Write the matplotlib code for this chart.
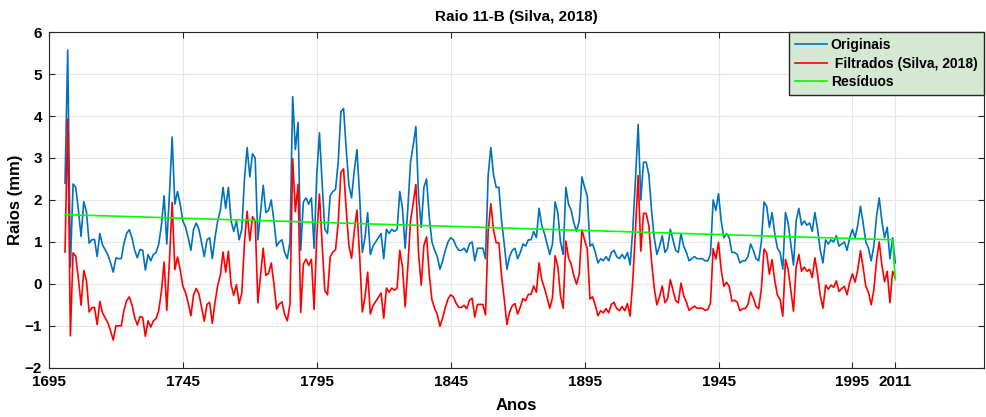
import numpy as np
import matplotlib
matplotlib.use("Agg")
import matplotlib.pyplot as plt

plt.rcParams['font.family'] = ['Liberation Sans', 'DejaVu Sans']

first_year = 1701

# Originais (mm), um valor por ano a partir de 1701
originais = [
    2.4, 5.57, 0.4, 2.38, 2.3, 1.76, 1.13, 1.96, 1.72, 0.97,
    1.05, 1.06, 0.65, 1.2, 0.93, 0.81, 0.69, 0.5, 0.28, 0.62,
    0.6, 0.6, 0.97, 1.2, 1.29, 1.1, 0.8, 0.62, 0.82, 0.8,
    0.33, 0.7, 0.55, 0.7, 0.75, 0.95, 1.4, 2.1, 0.95, 2.15,
    3.5, 1.9, 2.2, 1.9, 1.5, 1.35, 1.1, 0.8, 1.3, 1.45,
    1.3, 0.97, 0.65, 1.05, 1.1, 0.6, 1.1, 1.5, 1.75, 2.3,
    1.8, 2.3, 1.5, 1.25, 1.5, 1.05, 1.3, 2.5, 3.25, 2.55,
    3.1, 3.0, 1.05, 1.7, 2.35, 1.7, 1.75, 2.0, 1.5, 0.9,
    1.0, 1.05, 0.75, 0.6, 1.0, 4.46, 3.2, 3.85, 0.8, 1.95,
    2.05, 1.9, 2.05, 0.85, 2.6, 3.6, 2.4, 1.3, 1.2, 2.1,
    2.2, 2.25, 2.9, 4.1, 4.18, 3.2, 2.35, 2.05, 2.7, 3.2,
    2.1, 0.75, 1.1, 1.7, 0.7, 0.9, 1.0, 1.1, 1.2, 0.6,
    1.3, 1.2, 1.3, 1.25, 1.3, 2.2, 1.8, 0.85, 1.8, 2.9,
    3.3, 3.75, 2.1, 1.35, 2.3, 2.5, 1.6, 1.0, 0.8, 0.65,
    0.35, 0.55, 0.8, 1.0, 1.1, 1.05, 0.9, 0.8, 0.8, 0.85,
    0.75, 0.95, 1.0, 0.55, 0.85, 0.85, 0.85, 0.6, 2.6, 3.25,
    2.6, 2.3, 2.3, 1.5, 0.95, 0.35, 0.65, 0.8, 0.85, 0.6,
    0.75, 0.95, 0.9, 1.05, 1.05, 1.25, 1.1, 1.8, 1.4, 1.2,
    0.95, 0.7, 0.95, 1.95, 1.7, 1.0, 0.7, 2.3, 1.9, 1.75,
    1.45, 1.25, 1.5, 2.55, 2.3, 2.1, 0.9, 0.95, 0.75, 0.5,
    0.6, 0.55, 0.65, 0.55, 0.75, 0.8, 0.65, 0.6, 0.7, 0.6,
    0.75, 0.45, 1.3, 2.5, 3.8, 2.0, 2.9, 2.9, 2.6, 1.75,
    1.1, 0.7, 0.9, 1.15, 0.75, 0.85, 1.3, 1.05, 0.8, 0.75,
    1.2, 0.9, 0.75, 0.55, 0.6, 0.65, 0.6, 0.6, 0.6, 0.55,
    0.55, 0.7, 2.0, 1.75, 2.15, 1.5, 1.1, 1.2, 1.1, 0.75,
    0.75, 0.7, 0.5, 0.55, 0.55, 0.65, 0.95, 0.8, 0.6, 0.55,
    1.0, 1.95, 1.85, 1.35, 1.7, 1.2, 0.85, 0.75, 0.35, 1.7,
    1.45, 0.95, 0.45, 1.5, 1.8, 1.4, 1.5, 1.4, 1.45, 1.25,
    1.7, 1.3, 0.8, 0.5, 1.05, 0.95, 1.05, 1.0, 1.15, 0.9,
    0.95, 1.0, 0.8, 1.1, 1.3, 1.1, 1.4, 1.85, 1.45, 1.0,
    0.85, 0.55, 0.9, 1.6, 2.05, 1.5, 1.1, 1.35, 0.6, 1.1,
    0.5,
]

# Filtrados (Silva, 2018)
filtrados = [
    0.76, 3.93, -1.24, 0.74, 0.66, 0.12, -0.51, 0.32, 0.08, -0.67,
    -0.57, -0.56, -0.97, -0.42, -0.69, -0.81, -0.93, -1.12, -1.34, -1.0,
    -1.0, -1.0, -0.63, -0.4, -0.31, -0.5, -0.8, -0.98, -0.78, -0.8,
    -1.25, -0.88, -1.03, -0.88, -0.83, -0.63, -0.18, 0.52, -0.63, 0.57,
    1.94, 0.34, 0.64, 0.34, -0.06, -0.21, -0.46, -0.76, -0.26, -0.11,
    -0.24, -0.57, -0.89, -0.49, -0.44, -0.94, -0.44, -0.04, 0.21, 0.76,
    0.28, 0.78, -0.02, -0.27, -0.02, -0.47, -0.22, 0.98, 1.73, 1.03,
    1.6, 1.5, -0.45, 0.2, 0.85, 0.2, 0.25, 0.5, 0.0, -0.6,
    -0.48, -0.43, -0.73, -0.88, -0.48, 2.98, 1.72, 2.37, -0.68, 0.47,
    0.59, 0.44, 0.59, -0.61, 1.14, 2.14, 0.94, -0.16, -0.26, 0.64,
    0.76, 0.81, 1.46, 2.66, 2.74, 1.76, 0.91, 0.61, 1.26, 1.76,
    0.68, -0.67, -0.32, 0.28, -0.72, -0.52, -0.42, -0.32, -0.22, -0.82,
    -0.1, -0.2, -0.1, -0.15, -0.1, 0.8, 0.4, -0.55, 0.4, 1.5,
    1.92, 2.37, 0.72, -0.03, 0.92, 1.12, 0.22, -0.38, -0.58, -0.73,
    -1.01, -0.81, -0.56, -0.36, -0.26, -0.31, -0.46, -0.56, -0.56, -0.51,
    -0.59, -0.39, -0.34, -0.79, -0.49, -0.49, -0.49, -0.74, 1.26, 1.91,
    1.28, 0.98, 0.98, 0.18, -0.37, -0.97, -0.67, -0.52, -0.47, -0.72,
    -0.55, -0.35, -0.4, -0.25, -0.25, -0.05, -0.2, 0.5, 0.1, -0.1,
    -0.33, -0.58, -0.33, 0.67, 0.42, -0.28, -0.58, 1.02, 0.62, 0.47,
    0.19, -0.01, 0.24, 1.29, 1.04, 0.84, -0.36, -0.31, -0.51, -0.76,
    -0.64, -0.69, -0.59, -0.69, -0.49, -0.44, -0.59, -0.64, -0.54, -0.64,
    -0.47, -0.77, 0.08, 1.28, 2.58, 0.78, 1.68, 1.68, 1.38, 0.53,
    -0.1, -0.5, -0.3, -0.05, -0.45, -0.35, 0.1, -0.15, -0.4, -0.45,
    0.02, -0.28, -0.43, -0.63, -0.58, -0.53, -0.58, -0.58, -0.58, -0.63,
    -0.61, -0.46, 0.84, 0.59, 0.99, 0.34, -0.06, 0.04, -0.06, -0.41,
    -0.39, -0.44, -0.64, -0.59, -0.59, -0.49, -0.19, -0.34, -0.54, -0.59,
    -0.12, 0.83, 0.73, 0.23, 0.58, 0.08, -0.27, -0.37, -0.77, 0.58,
    0.35, -0.15, -0.65, 0.4, 0.7, 0.3, 0.4, 0.3, 0.35, 0.15,
    0.62, 0.22, -0.28, -0.58, -0.03, -0.13, -0.03, -0.08, 0.07, -0.18,
    -0.11, -0.06, -0.26, 0.04, 0.24, 0.04, 0.34, 0.79, 0.39, -0.06,
    -0.2, -0.5, -0.15, 0.55, 1.0, 0.45, 0.05, 0.3, -0.45, 0.3,
    0.15,
]

# Resíduos (tendência)
residuos_anos = [1701, 2010, 2011]
residuos = [1.65, 1.05, 0.1]

x_ticks = [1695, 1745, 1795, 1845, 1895, 1945, 1995, 2011]
y_ticks = [-2, -1, 0, 1, 2, 3, 4, 5, 6]

anos = np.arange(first_year, first_year + len(originais))

fig = plt.figure(figsize=(9.87, 4.17), dpi=100)
ax = fig.add_axes([0.0496, 0.118, 0.947, 0.805])

ax.plot(anos, originais, color='#0072BD', lw=1.2, label='Originais')
ax.plot(anos, filtrados, color='#FF0000', lw=1.2, label=' Filtrados (Silva, 2018)')
ax.plot(residuos_anos, residuos, color='#00FF00', lw=1.2, label='Resíduos')

ax.set_xlim(1695, 2044)
ax.set_ylim(-2, 6)
ax.set_xticks(x_ticks)
ax.set_yticks(y_ticks)
ax.grid(True, color='#e6e6e6', lw=0.8)
ax.set_axisbelow(True)
ax.tick_params(direction='in', top=True, right=True, length=4, color='#262626',
               labelsize=11, pad=5)
for lab in ax.get_xticklabels() + ax.get_yticklabels():
    lab.set_fontweight('bold')
for s in ax.spines.values():
    s.set_color('#262626')
    s.set_linewidth(0.8)

ax.set_title('Raio 11-B (Silva, 2018)', fontsize=11, fontweight='bold', pad=8)
ax.set_xlabel('Anos', fontsize=12, fontweight='bold', labelpad=7)
ax.set_ylabel('Raios (mm)', fontsize=12, fontweight='bold', labelpad=1)

leg = ax.legend(loc='upper right', prop={'weight': 'bold', 'size': 10},
                frameon=True, fancybox=False, handlelength=2.3, borderaxespad=0,
                borderpad=0.45, labelspacing=0.3, handletextpad=0.25)
leg.get_frame().set_facecolor('#d5e8d4')
leg.get_frame().set_edgecolor('#262626')
leg.get_frame().set_alpha(1)

fig.savefig('out.png', dpi=100)
